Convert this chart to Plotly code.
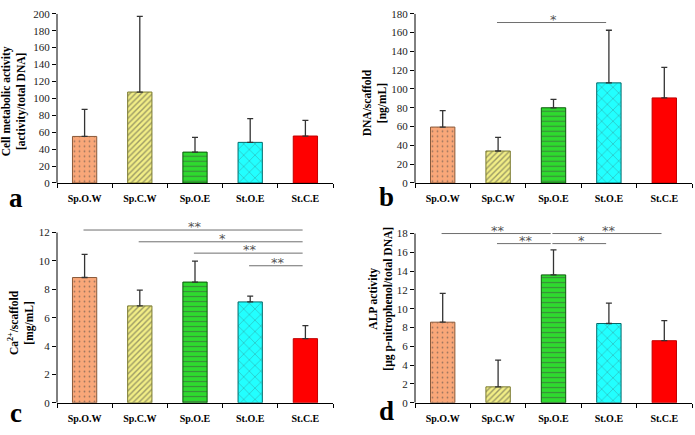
import plotly.graph_objects as go

# ---------------- data ----------------
categories = ["Sp.O.W", "Sp.C.W", "Sp.O.E", "St.O.E", "St.C.E"]

metabolic = [55, 107.5, 36.5, 48, 55.5]
metabolic_sd = [32, 89.5, 17.5, 28, 18.5]

dna = [59.5, 34, 80, 106.5, 90.5]
dna_sd = [17.5, 14.5, 9, 56, 32.5]

calcium = [8.83, 6.83, 8.51, 7.11, 4.52]
calcium_sd = [1.63, 1.11, 1.47, 0.41, 0.92]

alp = [8.57, 1.69, 13.6, 8.43, 6.6]
alp_sd = [3.07, 2.84, 2.67, 2.17, 2.14]

# significance brackets: (from category index, to category index, level, label)
sig_b = [(1, 3, 170.7, "*")]
sig_c = [(0, 4, 12.18, "**"), (1, 4, 11.35, "*"), (2, 4, 10.55, "**"), (3, 4, 9.66, "**")]
sig_d = [(0, 2, 18.0, "**"), (1, 2, 16.93, "**"), (2, 3, 16.93, "*"), (2, 4, 18.0, "**")]

# ---------------- styles ----------------
bar_colors = ["#F9A779", "#F2EE86", "#2EDB2E", "#22FFFF", "#FF0000"]
line_colors = ["#8A5A3A", "#7A7A30", "#0A5A0A", "#006B6B", "#C00000"]
pat_shapes = [".", "/", "-", "x", ""]
pat_fg = ["#9A6A4A", "#8A8A30", "#0A8A0A", "#007A7A", "#FF0000"]
pat_size = [5, 4, 5, 8, 8]
pat_solid = [0.1, 0.35, 0.25, 0.12, 0.2]

SERIF = "Liberation Serif"

panels = [
    dict(v=metabolic, sd=metabolic_sd, rng=[0, 200], top=200, dt=20,
         xd=[57 / 695, 333 / 695], yd=[(435 - 182) / 435, (435 - 8) / 435],
         letter="a", lpos=(16, 197),
         title="Cell metabolic activity<br>[activity/total DNA]", tpos=(14, 98), sig=[]),
    dict(v=dna, sd=dna_sd, rng=[0, 180], top=180, dt=20,
         xd=[415 / 695, 692 / 695], yd=[(435 - 182) / 435, (435 - 8) / 435],
         letter="b", lpos=(386, 196),
         title="DNA/scaffold<br>[ng/mL]", tpos=(375, 100), sig=sig_b),
    dict(v=calcium, sd=calcium_sd, rng=[0, 12.6], top=12, dt=2,
         xd=[57 / 695, 333 / 695], yd=[(435 - 408) / 435, (435 - 224.25) / 435],
         letter="c", lpos=(16, 419),
         title="Ca<sup>2+</sup>/scaffold<br>[mg/mL]", tpos=(21, 326), sig=sig_c),
    dict(v=alp, sd=alp_sd, rng=[0, 18.9], top=18, dt=2,
         xd=[415 / 695, 692 / 695], yd=[(435 - 408) / 435, (435 - 225.3) / 435],
         letter="d", lpos=(386, 416),
         title="ALP activity<br>[µg p-nitrophenol/total DNA]", tpos=(381, 301), sig=sig_d),
]

fig = go.Figure()
layout = dict(
    width=695, height=435,
    margin=dict(l=0, r=0, t=0, b=0),
    paper_bgcolor="white", plot_bgcolor="white",
    showlegend=False, bargap=0.56,
    font=dict(family=SERIF, color="#222222"),
)
annotations = []
shapes = []

for i, p in enumerate(panels, start=1):
    xa = "x" if i == 1 else f"x{i}"
    ya = "y" if i == 1 else f"y{i}"
    fig.add_trace(go.Bar(
        x=categories, y=p["v"], xaxis=xa, yaxis=ya,
        marker=dict(
            color=bar_colors,
            line=dict(color=line_colors, width=1),
            pattern=dict(shape=pat_shapes, fgcolor=pat_fg, bgcolor=bar_colors,
                         size=pat_size, solidity=pat_solid),
        ),
        error_y=dict(type="data", symmetric=False, array=p["sd"],
                     arrayminus=[0] * len(p["sd"]),
                     color="#333333", thickness=1.3, width=3),
    ))
    layout[f"xaxis{'' if i == 1 else i}"] = dict(
        domain=p["xd"], anchor=ya, type="category", range=[-0.5, 4.5],
        showline=True, linecolor="black", linewidth=1,
        ticks="outside", tickson="boundaries", ticklen=4, tickcolor="black",
        tickfont=dict(family=SERIF, size=10, color="black"),
        ticklabelstandoff=6, showgrid=False, fixedrange=True,
        tickprefix="<b>", ticksuffix="</b>",
    )
    layout[f"yaxis{'' if i == 1 else i}"] = dict(
        domain=p["yd"], anchor=xa, range=p["rng"], dtick=p["dt"], tick0=0,
        showline=False, ticks="outside", ticklen=4, tickcolor="black",
        tickfont=dict(family=SERIF, size=11, color="#222222"),
        showgrid=False, zeroline=False, fixedrange=True,
    )
    shapes.append(dict(type="line", xref=f"{xa} domain", yref=ya,
                       x0=0, x1=0, y0=0, y1=p["top"],
                       line=dict(color="black", width=1)))
    annotations.append(dict(text=f"<b>{p['letter']}</b>", xref="paper", yref="paper",
                            x=p["lpos"][0] / 695, y=1 - p["lpos"][1] / 435,
                            xanchor="center", yanchor="middle", showarrow=False,
                            font=dict(family=SERIF, size=27, color="black")))
    annotations.append(dict(text=f"<b>{p['title']}</b>", xref="paper", yref="paper",
                            x=p["tpos"][0] / 695, y=1 - p["tpos"][1] / 435,
                            xanchor="center", yanchor="middle", showarrow=False,
                            textangle=-90,
                            font=dict(family=SERIF, size=11.5, color="black")))
    for (a, b, lvl, lab) in p["sig"]:
        shapes.append(dict(type="line", xref=xa, yref=ya,
                           x0=a - 0.02, x1=b - 0.05, y0=lvl, y1=lvl,
                           line=dict(color="#6E6E6E", width=1)))
        annotations.append(dict(text=lab, xref=xa, yref=ya,
                                x=(a + b) / 2, y=lvl, xanchor="center",
                                yanchor="bottom", showarrow=False, yshift=-6,
                                font=dict(family="DejaVu Sans", size=13, color="#555555")))

layout["annotations"] = annotations
layout["shapes"] = shapes
fig.update_layout(**layout)
fig.write_html("out.html", config={"displayModeBar": False},
               post_script="document.body.style.margin='0';document.body.style.overflow='hidden';")
